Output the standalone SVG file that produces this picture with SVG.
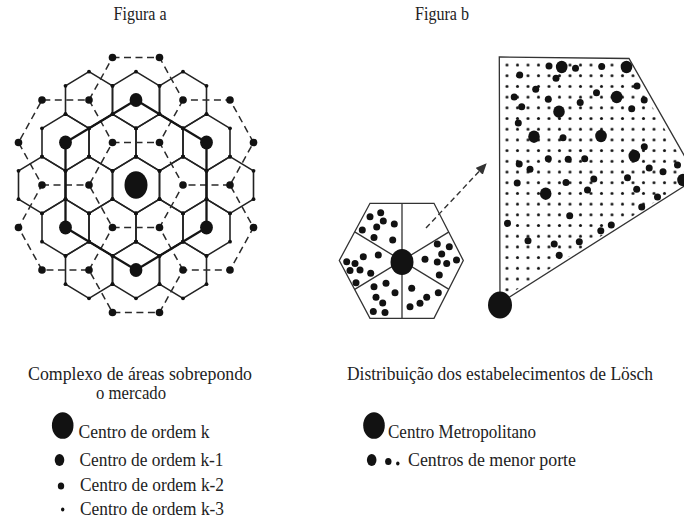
<svg xmlns="http://www.w3.org/2000/svg" width="684" height="518" viewBox="0 0 684 518">
  <style>
    .txt { font-family: "Liberation Serif", "Times New Roman", serif; font-size: 19px; fill: #222; }
    .ttl { font-family: "Liberation Serif", "Times New Roman", serif; font-size: 18px; fill: #222; text-anchor: middle; }
    .cap { text-anchor: middle; }
    .grid { fill: none; stroke: #222; stroke-width: 1.6; stroke-linejoin: round; }
    .dash { fill: none; stroke: #2a2a2a; stroke-width: 1.5; stroke-dasharray: 7 4.5; }
    .bold { fill: none; stroke: #151515; stroke-width: 2.3; stroke-linejoin: round; }
    .dot { fill: #121212; }
    .edge { fill: none; stroke: #333; stroke-width: 1.3; }
  </style>
  <defs>
    <!-- one cell of the hexagonal lattice with its corner points -->
    <g id="cell">
      <path class="grid" d="M0,-28.33 L23.5,-14.17 L23.5,14.17 L0,28.33 L-23.5,14.17 L-23.5,-14.17 Z"/>
      <g class="dot">
        <circle cx="0" cy="-28.33" r="1.9"/>
        <circle cx="23.5" cy="-14.17" r="1.9"/>
        <circle cx="23.5" cy="14.17" r="1.9"/>
        <circle cx="0" cy="28.33" r="1.9"/>
        <circle cx="-23.5" cy="14.17" r="1.9"/>
        <circle cx="-23.5" cy="-14.17" r="1.9"/>
      </g>
    </g>
    <!-- regular field of small establishments -->
    <pattern id="field" patternUnits="userSpaceOnUse" x="501.75" y="59.65" width="10.5" height="10.7">
      <circle cx="5.25" cy="5.35" r="1.5" fill="#141414"/>
    </pattern>
    <marker id="head" markerUnits="userSpaceOnUse" markerWidth="12" markerHeight="10" refX="10" refY="5" orient="auto">
      <path d="M0,0 L11,5 L0,10 Z" fill="#333"/>
    </marker>
  </defs>

  <!-- titles -->
  <text class="ttl" x="140" y="20" textLength="53" lengthAdjust="spacingAndGlyphs">Figura a</text>
  <text class="ttl" x="442" y="20" textLength="54" lengthAdjust="spacingAndGlyphs">Figura b</text>

  <!-- Figure a: lattice of market areas -->
  <g id="fig-a-lattice">
    <use href="#cell" x="89" y="100"/>
    <use href="#cell" x="136" y="100"/>
    <use href="#cell" x="183" y="100"/>
    <use href="#cell" x="65.5" y="142.5"/>
    <use href="#cell" x="112.5" y="142.5"/>
    <use href="#cell" x="159.5" y="142.5"/>
    <use href="#cell" x="206.5" y="142.5"/>
    <use href="#cell" x="42" y="185"/>
    <use href="#cell" x="89" y="185"/>
    <use href="#cell" x="136" y="185"/>
    <use href="#cell" x="183" y="185"/>
    <use href="#cell" x="230" y="185"/>
    <use href="#cell" x="65.5" y="227.5"/>
    <use href="#cell" x="112.5" y="227.5"/>
    <use href="#cell" x="159.5" y="227.5"/>
    <use href="#cell" x="206.5" y="227.5"/>
    <use href="#cell" x="89" y="270"/>
    <use href="#cell" x="136" y="270"/>
    <use href="#cell" x="183" y="270"/>
  </g>

  <!-- Figure a: connectors (dashed areas of order k-1, bold area of order k) -->
  <g id="fig-a-connectors">
    <path class="dash" d="M112.5,57.5 L159.5,57.5 L183,100 L230,100 L253.5,142.5 L230,185 L253.5,227.5 L230,270 L183,270 L159.5,312.5 L112.5,312.5 L89,270 L42,270 L18.5,227.5 L42,185 L18.5,142.5 L42,100 L89,100 Z"/>
    <path class="dash" d="M112.5,142.5 L159.5,142.5 L183,185 L159.5,227.5 L112.5,227.5 L89,185 Z"/>
    <path class="dash" d="M183,100 L159.5,142.5 M89,100 L112.5,142.5 M230,185 L183,185 M183,270 L159.5,227.5 M89,270 L112.5,227.5 M42,185 L89,185"/>
    <path class="bold" d="M136,100 L206.5,142.5 L206.5,227.5 L136,270 L65.5,227.5 L65.5,142.5 Z"/>
  </g>

  <!-- Figure a: centres of order k-2 -->
  <g id="fig-a-order-k2" class="dot">
    <circle cx="112.5" cy="142.5" r="3.8"/>
    <circle cx="159.5" cy="142.5" r="3.8"/>
    <circle cx="183" cy="185" r="3.8"/>
    <circle cx="159.5" cy="227.5" r="3.8"/>
    <circle cx="112.5" cy="227.5" r="3.8"/>
    <circle cx="89" cy="185" r="3.8"/>
    <circle cx="112.5" cy="57.5" r="3.8"/>
    <circle cx="159.5" cy="57.5" r="3.8"/>
    <circle cx="183" cy="100" r="3.8"/>
    <circle cx="230" cy="100" r="3.8"/>
    <circle cx="253.5" cy="142.5" r="3.8"/>
    <circle cx="230" cy="185" r="3.8"/>
    <circle cx="253.5" cy="227.5" r="3.8"/>
    <circle cx="230" cy="270" r="3.8"/>
    <circle cx="183" cy="270" r="3.8"/>
    <circle cx="159.5" cy="312.5" r="3.8"/>
    <circle cx="112.5" cy="312.5" r="3.8"/>
    <circle cx="89" cy="270" r="3.8"/>
    <circle cx="42" cy="270" r="3.8"/>
    <circle cx="18.5" cy="227.5" r="3.8"/>
    <circle cx="42" cy="185" r="3.8"/>
    <circle cx="18.5" cy="142.5" r="3.8"/>
    <circle cx="42" cy="100" r="3.8"/>
    <circle cx="89" cy="100" r="3.8"/>
  </g>

  <!-- Figure a: centres of order k-1 and k -->
  <g id="fig-a-order-k1" class="dot">
    <ellipse cx="136" cy="100" rx="6.4" ry="7"/>
    <ellipse cx="206.5" cy="142.5" rx="6.4" ry="7"/>
    <ellipse cx="206.5" cy="227.5" rx="6.4" ry="7"/>
    <ellipse cx="136" cy="270" rx="6.4" ry="7"/>
    <ellipse cx="65.5" cy="227.5" rx="6.4" ry="7"/>
    <ellipse cx="65.5" cy="142.5" rx="6.4" ry="7"/>
  </g>
  <g id="fig-a-order-k" class="dot">
    <ellipse cx="136" cy="185" rx="11.5" ry="13.8"/>
  </g>

  <!-- Figure b: hexagonal market area split in six sectors -->
  <g id="fig-b-hexagon">
    <path class="edge" stroke-width="1.7" d="M370,203.3 L434,203.3 L463.3,260.5 L434,318.3 L370,318.3 L339.3,260.5 Z"/>
    <path class="edge" stroke-width="1.4" d="M402,203.3 L402,318.3 M354.7,231.9 L449,289.4 M354.7,289.4 L449,231.9"/>
    <g class="dot">
      <circle cx="370" cy="216.7" r="3.5"/>
      <circle cx="380.7" cy="212.7" r="3.5"/>
      <circle cx="383.3" cy="221" r="3.5"/>
      <circle cx="376.7" cy="227" r="3.5"/>
      <circle cx="394.3" cy="224" r="3.5"/>
      <circle cx="362.3" cy="230" r="3.5"/>
      <circle cx="374" cy="237.5" r="3.5"/>
      <circle cx="392.7" cy="240" r="3.5"/>
      <circle cx="346.7" cy="261.7" r="3.5"/>
      <circle cx="355" cy="263.5" r="3.5"/>
      <circle cx="363.3" cy="256.7" r="3.5"/>
      <circle cx="350" cy="270.5" r="3.5"/>
      <circle cx="360" cy="270" r="3.5"/>
      <circle cx="370.7" cy="273.3" r="3.5"/>
      <circle cx="356" cy="282.7" r="3.5"/>
      <circle cx="378.3" cy="255" r="3.5"/>
      <circle cx="374" cy="286.7" r="3.5"/>
      <circle cx="386" cy="283.3" r="3.5"/>
      <circle cx="395" cy="292.7" r="3.5"/>
      <circle cx="376" cy="297.3" r="3.5"/>
      <circle cx="382.7" cy="303" r="3.5"/>
      <circle cx="373.3" cy="311.5" r="3.5"/>
      <circle cx="385" cy="312.5" r="3.5"/>
      <circle cx="411.7" cy="288.3" r="3.5"/>
      <circle cx="426.7" cy="297.3" r="3.5"/>
      <circle cx="420" cy="303.3" r="3.5"/>
      <circle cx="410" cy="306.7" r="3.5"/>
      <circle cx="438.3" cy="292.7" r="3.5"/>
      <circle cx="425" cy="259.3" r="3.5"/>
      <circle cx="437.3" cy="244" r="3.5"/>
      <circle cx="449.3" cy="246.7" r="3.5"/>
      <circle cx="441.7" cy="254" r="3.5"/>
      <circle cx="437.3" cy="262" r="3.5"/>
      <circle cx="446.7" cy="263.5" r="3.5"/>
      <circle cx="456.5" cy="260" r="3.5"/>
      <circle cx="439.3" cy="275" r="3.5"/>
      <ellipse cx="402" cy="262" rx="11.5" ry="13"/>
    </g>
  </g>

  <!-- Figure b: enlargement arrow -->
  <g id="fig-b-connector">
    <path d="M426,228 L486,164" fill="none" stroke="#333" stroke-width="1.4" stroke-dasharray="5.5 3.5" marker-end="url(#head)"/>
  </g>

  <!-- Figure b: enlarged sector with the distribution of establishments -->
  <g id="fig-b-sector">
    <polygon points="503,61 627.5,62 692,178.5 503,298.5" fill="url(#field)"/>
    <polygon class="edge" stroke-width="1.4" points="499.3,57 629,58.5 697,178 500,303"/>
    <g class="dot">
      <circle cx="549" cy="66" r="3.5"/>
      <circle cx="575.5" cy="68.3" r="3.5"/>
      <circle cx="601.7" cy="66.5" r="3.5"/>
      <circle cx="519.7" cy="75" r="3.5"/>
      <circle cx="556" cy="78.3" r="3.5"/>
      <circle cx="535.7" cy="89.3" r="3.5"/>
      <circle cx="637" cy="86" r="3.5"/>
      <circle cx="596.5" cy="92.7" r="3.5"/>
      <circle cx="514.2" cy="97" r="3.5"/>
      <circle cx="548.3" cy="99.3" r="3.5"/>
      <circle cx="644.2" cy="100" r="3.5"/>
      <circle cx="580.2" cy="102.5" r="3.5"/>
      <circle cx="521.7" cy="106.7" r="3.5"/>
      <circle cx="631.7" cy="108.7" r="3.5"/>
      <circle cx="518.3" cy="123" r="3.5"/>
      <circle cx="563" cy="137.7" r="3.5"/>
      <circle cx="644.3" cy="146.7" r="3.5"/>
      <circle cx="548.3" cy="158.8" r="3.5"/>
      <circle cx="568.2" cy="159.3" r="3.5"/>
      <circle cx="584.7" cy="158.8" r="3.5"/>
      <circle cx="519.2" cy="164" r="3.5"/>
      <circle cx="530" cy="169.3" r="3.5"/>
      <circle cx="649.2" cy="168" r="3.5"/>
      <circle cx="663" cy="171.7" r="3.5"/>
      <circle cx="677.5" cy="165" r="3.5"/>
      <circle cx="593.8" cy="179" r="3.5"/>
      <circle cx="627.5" cy="177.8" r="3.5"/>
      <circle cx="517.2" cy="183" r="3.5"/>
      <circle cx="566" cy="182.5" r="3.5"/>
      <circle cx="587.5" cy="190" r="3.5"/>
      <circle cx="636.7" cy="189.2" r="3.5"/>
      <circle cx="657.5" cy="197" r="3.5"/>
      <circle cx="641.7" cy="207" r="3.5"/>
      <circle cx="569.7" cy="215.8" r="3.5"/>
      <circle cx="507.5" cy="223.3" r="3.5"/>
      <circle cx="611.3" cy="225" r="3.5"/>
      <circle cx="600.8" cy="230.7" r="3.5"/>
      <circle cx="528" cy="240.8" r="3.5"/>
      <circle cx="554.2" cy="244" r="3.5"/>
      <circle cx="579.3" cy="241.7" r="3.5"/>
      <circle cx="559.2" cy="255.3" r="3.5"/>
      <ellipse cx="561.7" cy="67" rx="5.8" ry="6.2"/>
      <ellipse cx="626.5" cy="67" rx="5.8" ry="6.2"/>
      <ellipse cx="616.7" cy="97" rx="5.8" ry="6.2"/>
      <ellipse cx="559" cy="111.7" rx="5.8" ry="6.2"/>
      <ellipse cx="534" cy="136.7" rx="5.8" ry="6.2"/>
      <ellipse cx="601" cy="136" rx="5.8" ry="6.2"/>
      <ellipse cx="634.3" cy="156" rx="5.8" ry="6.2"/>
      <ellipse cx="545.7" cy="193.7" rx="5.8" ry="6.2"/>
      <ellipse cx="683" cy="180" rx="5.8" ry="6.2"/>
      <ellipse cx="500" cy="305" rx="12" ry="13.5"/>
    </g>
  </g>

  <!-- captions -->
  <g id="caption-a">
    <text class="txt cap" x="140" y="380" textLength="224" lengthAdjust="spacingAndGlyphs">Complexo de áreas sobrepondo</text>
    <text class="txt cap" x="131" y="399" textLength="70" lengthAdjust="spacingAndGlyphs">o mercado</text>
  </g>
  <g id="caption-b">
    <text class="txt" x="347" y="380" textLength="306" lengthAdjust="spacingAndGlyphs">Distribuição dos estabelecimentos de Lösch</text>
  </g>

  <!-- legend of Figure a -->
  <g id="legend-a">
    <ellipse class="dot" cx="62.7" cy="425.5" rx="10.8" ry="13.3"/>
    <text class="txt" x="78.5" y="438" textLength="131" lengthAdjust="spacingAndGlyphs">Centro de ordem k</text>
    <ellipse class="dot" cx="59.5" cy="460" rx="4.8" ry="6"/>
    <text class="txt" x="79.5" y="465.5" textLength="144" lengthAdjust="spacingAndGlyphs">Centro de ordem k-1</text>
    <ellipse class="dot" cx="61" cy="486" rx="3.2" ry="3.6"/>
    <text class="txt" x="80" y="491" textLength="144" lengthAdjust="spacingAndGlyphs">Centro de ordem k-2</text>
    <ellipse class="dot" cx="62.7" cy="509.5" rx="1.7" ry="2.1"/>
    <text class="txt" x="80" y="515" textLength="144" lengthAdjust="spacingAndGlyphs">Centro de ordem k-3</text>
  </g>

  <!-- legend of Figure b -->
  <g id="legend-b">
    <ellipse class="dot" cx="374" cy="425.5" rx="10.8" ry="13.3"/>
    <text class="txt" x="388" y="438" textLength="148" lengthAdjust="spacingAndGlyphs">Centro Metropolitano</text>
    <ellipse class="dot" cx="371.7" cy="460" rx="4.8" ry="6"/>
    <ellipse class="dot" cx="388.3" cy="461.5" rx="3.2" ry="3.6"/>
    <ellipse class="dot" cx="397.8" cy="463.5" rx="1.7" ry="2"/>
    <text class="txt" x="408" y="465.5" textLength="168" lengthAdjust="spacingAndGlyphs">Centros de menor porte</text>
  </g>
</svg>
